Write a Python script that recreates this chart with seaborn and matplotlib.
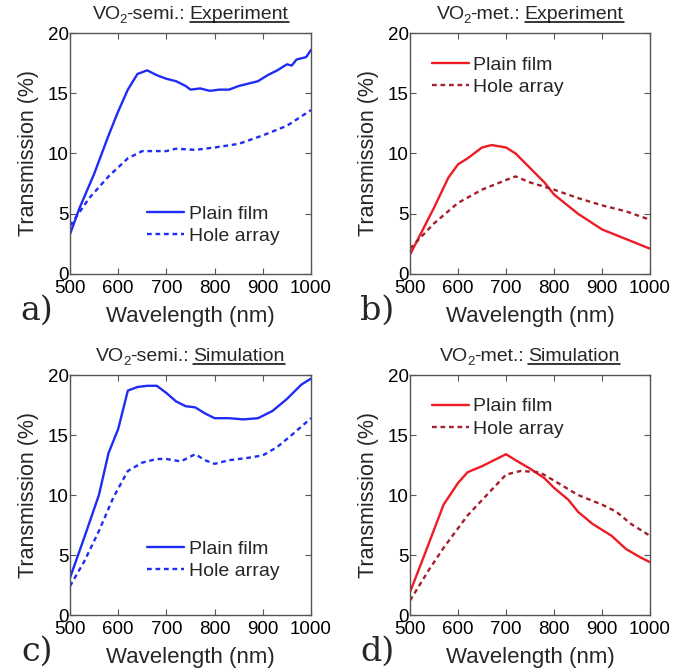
import numpy as np
import pandas as pd
import matplotlib
matplotlib.use("Agg")
import matplotlib.pyplot as plt
from matplotlib.lines import Line2D
import seaborn as sns

# ── DATA ──────────────────────────────────────────────────────
a_plain_x = [500, 520, 550, 580, 600, 620, 640, 660, 680, 700, 720, 740, 750, 770, 790, 810, 830, 850, 870, 890, 910, 930, 950, 960, 970, 990, 1000]
a_plain_y = [3.3, 5.5, 8.3, 11.5, 13.5, 15.3, 16.6, 16.9, 16.5, 16.2, 16.0, 15.6, 15.3, 15.4, 15.2, 15.3, 15.3, 15.6, 15.8, 16.0, 16.5, 16.9, 17.4, 17.3, 17.8, 18.0, 18.6]
a_hole_x = [500, 540, 580, 620, 650, 700, 720, 760, 800, 850, 900, 950, 1000]
a_hole_y = [4.0, 6.3, 8.1, 9.6, 10.2, 10.2, 10.4, 10.3, 10.5, 10.8, 11.5, 12.3, 13.6]

b_plain_x = [500, 550, 580, 600, 620, 650, 670, 700, 720, 750, 780, 800, 850, 900, 950, 1000]
b_plain_y = [1.6, 5.5, 8.0, 9.1, 9.6, 10.5, 10.7, 10.5, 10.0, 8.8, 7.6, 6.6, 5.0, 3.7, 2.9, 2.1]
b_hole_x = [500, 550, 600, 650, 700, 720, 750, 800, 850, 900, 950, 1000]
b_hole_y = [2.1, 4.2, 5.9, 7.0, 7.8, 8.1, 7.6, 7.0, 6.3, 5.7, 5.2, 4.5]

c_plain_x = [500, 530, 560, 580, 600, 620, 640, 660, 680, 700, 720, 740, 760, 780, 800, 830, 860, 890, 920, 950, 980, 1000]
c_plain_y = [3.1, 6.5, 10.0, 13.5, 15.5, 18.7, 19.0, 19.1, 19.1, 18.5, 17.8, 17.4, 17.3, 16.8, 16.4, 16.4, 16.3, 16.4, 17.0, 18.0, 19.2, 19.7]
c_hole_x = [500, 530, 560, 590, 620, 650, 680, 700, 730, 760, 780, 800, 830, 870, 900, 930, 960, 1000]
c_hole_y = [2.4, 4.5, 7.0, 9.8, 12.0, 12.7, 13.0, 13.0, 12.8, 13.4, 12.9, 12.6, 12.9, 13.1, 13.3, 14.0, 15.0, 16.4]

d_plain_x = [500, 530, 570, 600, 620, 650, 700, 720, 750, 780, 800, 830, 850, 880, 920, 950, 980, 1000]
d_plain_y = [1.9, 5.0, 9.2, 11.0, 11.9, 12.4, 13.4, 12.9, 12.2, 11.4, 10.6, 9.6, 8.6, 7.6, 6.6, 5.5, 4.8, 4.4]
d_hole_x = [500, 540, 570, 620, 660, 700, 730, 770, 800, 850, 900, 930, 960, 1000]
d_hole_y = [1.2, 3.8, 5.6, 8.3, 10.0, 11.7, 12.0, 11.9, 11.2, 10.0, 9.2, 8.6, 7.6, 6.6]

series_labels = ["Plain film", "Hole array"]
x_ticks = [500, 600, 700, 800, 900, 1000]
y_ticks = [0, 5, 10, 15, 20]

BLUE = "#1f2cf5"
RED = "#ee1c24"
DARKRED = "#a3202c"

# ── STYLE ─────────────────────────────────────────────────────
sns.set_theme(style="white")
plt.rcParams["font.family"] = ["Liberation Sans", "DejaVu Sans"]
plt.rcParams["axes.edgecolor"] = "#555555"
plt.rcParams["axes.linewidth"] = 1.0

fig = plt.figure(figsize=(6.84, 6.71), dpi=100)
W, H = 684, 671


def px_axes(left, top, right, bottom):
    return fig.add_axes([left / W, 1 - bottom / H, (right - left) / W, (bottom - top) / H])


panels = [
    dict(pos=(70, 33, 311, 274), plain=(a_plain_x, a_plain_y), hole=(a_hole_x, a_hole_y),
         c1=BLUE, c2=BLUE, mat="-semi.:", word="Experiment", tag="a)",
         leg=dict(loc="lower right", bbox_to_anchor=(0.87, 0.12))),
    dict(pos=(410, 33, 650, 274), plain=(b_plain_x, b_plain_y), hole=(b_hole_x, b_hole_y),
         c1=RED, c2=DARKRED, mat="-met.:", word="Experiment", tag="b)",
         leg=dict(loc="upper left", bbox_to_anchor=(0.09, 0.905))),
    dict(pos=(70, 375, 311, 615), plain=(c_plain_x, c_plain_y), hole=(c_hole_x, c_hole_y),
         c1=BLUE, c2=BLUE, mat="-semi.:", word="Simulation", tag="c)",
         leg=dict(loc="lower right", bbox_to_anchor=(0.87, 0.145))),
    dict(pos=(410, 375, 650, 615), plain=(d_plain_x, d_plain_y), hole=(d_hole_x, d_hole_y),
         c1=RED, c2=DARKRED, mat="-met.:", word="Simulation", tag="d)",
         leg=dict(loc="upper left", bbox_to_anchor=(0.09, 0.905))),
]

renderer = fig.canvas.get_renderer()
TS = 14  # title font size

for p in panels:
    ax = px_axes(*p["pos"])
    sns.lineplot(x=p["plain"][0], y=p["plain"][1], ax=ax, color=p["c1"], lw=1.7,
                 label=series_labels[0])
    sns.lineplot(x=p["hole"][0], y=p["hole"][1], ax=ax, color=p["c2"], lw=1.7,
                 linestyle=(0, (2.0, 1.6)), label=series_labels[1])
    ax.set_xlim(500, 1000)
    ax.set_ylim(0, 20)
    ax.set_xticks(x_ticks)
    ax.set_yticks(y_ticks)
    ax.tick_params(direction="in", length=4, width=0.8, color="#555555",
                   labelsize=13.5, top=True, right=True, bottom=True, left=True,
                   labelcolor="black")
    ax.tick_params(axis="x", pad=4)
    ax.tick_params(axis="y", pad=1)
    ax.set_xlabel("Wavelength (nm)", fontsize=16, labelpad=7)
    ax.set_ylabel("Transmission (%)", fontsize=15.5, labelpad=6)
    for s in ax.spines.values():
        s.set_visible(True)
    ax.legend(frameon=False, fontsize=14, handlelength=1.9, handletextpad=0.25,
              labelspacing=0.25, borderaxespad=0.0, borderpad=0.0, **p["leg"])

    # title pieces: VO, subscript 2, material, underlined word
    axw = ax.bbox.width
    ty = 1.058
    pieces = [("VO", TS, 0.0, -1), ("2", TS * 0.68, -0.018, -1), (p["mat"], TS, 0.0, 5),
              (p["word"], TS, 0.0, 0)]
    texts, widths = [], []
    for s, fs, dy, gap in pieces:
        t = ax.text(0, ty + dy, s, transform=ax.transAxes, fontsize=fs,
                    ha="left", va="baseline")
        texts.append(t)
        widths.append(t.get_window_extent(renderer).width + gap)
    x = 0.5 - sum(widths) / 2 / axw
    for t, w in zip(texts, widths):
        t.set_x(x)
        x += w / axw
    bb = texts[-1].get_window_extent(renderer)
    base = ax.transAxes.transform((0, ty))[1]
    yline = base - 2.5
    fig.add_artist(Line2D([bb.x0 / W, bb.x1 / W], [yline / H, yline / H],
                          transform=fig.transFigure, color="black", lw=1.1))

    # panel tag
    left, top, right, bottom = p["pos"]
    fig.text((left - 33) / W, 1 - (bottom + 37) / H, p["tag"], fontsize=24,
             family="DejaVu Serif", ha="center", va="center")

fig.savefig("out.png", dpi=100)
